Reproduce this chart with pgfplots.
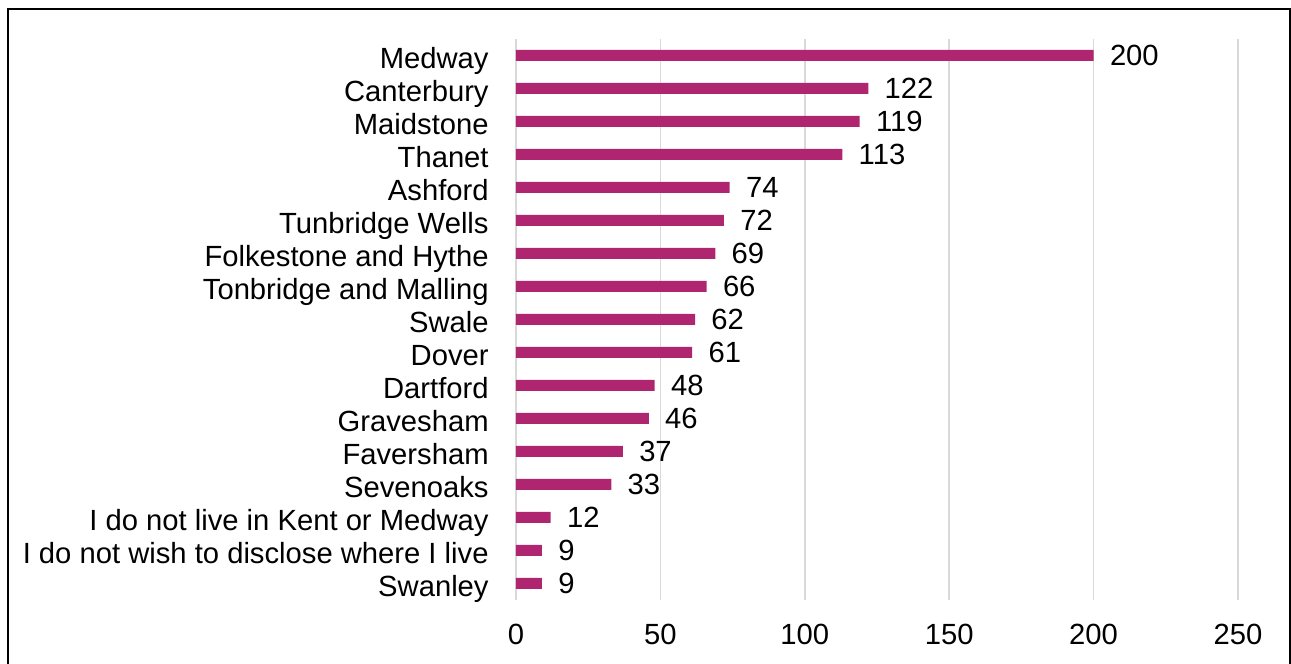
\documentclass[border=0pt]{standalone}
\usepackage{fontspec}
\setmainfont{Liberation Sans}
\usepackage{pgfplots}
\pgfplotsset{compat=1.18}
\definecolor{barc}{HTML}{B0256F}
\definecolor{gridc}{HTML}{D9D9D9}
\begin{document}
\fontsize{14.6}{17}\selectfont
\begin{tikzpicture}
\useasboundingbox (0,0) rectangle (645.5pt,332pt);
\draw[black, line width=1pt] (4pt,-5pt) rectangle (645pt,327.5pt);
\begin{axis}[
  at={(258pt,32pt)}, anchor=south west,
  scale only axis, width=361pt, height=280.5pt,
  xbar, bar width=5.5pt,
  xmin=0, xmax=250, ymin=-0.5, ymax=16.5,
  xtick={0,50,100,150,200,250},
  ytick={0,...,16},
  yticklabels={Swanley, I do not wish to disclose where I live, I do not live in Kent or Medway, Sevenoaks, Faversham, Gravesham, Dartford, Dover, Swale, Tonbridge and Malling, Folkestone and Hythe, Tunbridge Wells, Ashford, Thanet, Maidstone, Canterbury, Medway},
  axis line style={draw=none},
  major tick length=0pt,
  xmajorgrids, grid style={gridc, line width=0.75pt},
  /pgf/number format/assume math mode=true,
  tick label style={font=\fontsize{14.6}{17}\selectfont},
  yticklabel style={anchor=base east, inner sep=0pt, xshift=-13.5pt, yshift=-6.5pt},
  xticklabel style={anchor=north, inner sep=0pt, yshift=-12pt},
  nodes near coords,
  nodes near coords style={anchor=base west, inner sep=0pt, xshift=8pt, yshift=-5.2pt, font=\fontsize{14.6}{17}\selectfont, text=black},
]
\addplot[fill=barc, draw=none] coordinates {
(9,0) (9,1) (12,2) (33,3) (37,4) (46,5) (48,6) (61,7) (62,8) (66,9) (69,10) (72,11) (74,12) (113,13) (119,14) (122,15) (200,16)
};
\end{axis}
\end{tikzpicture}
\end{document}
